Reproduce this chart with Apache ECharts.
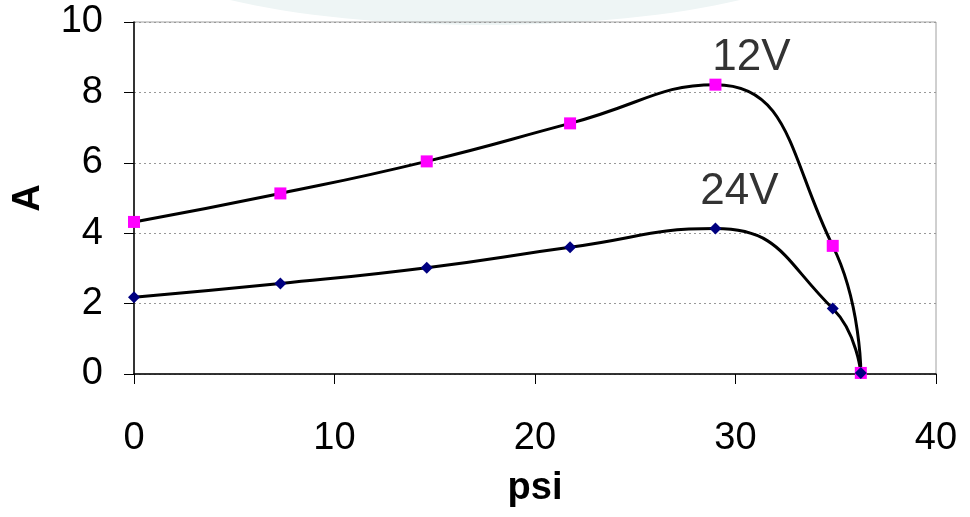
<!DOCTYPE html>
<html><head><meta charset="utf-8">
<script src="https://cdn.jsdelivr.net/npm/echarts@6/dist/echarts.min.js"></script>
<style>html,body{margin:0;padding:0;background:#fff}#c{width:970px;height:517px}</style>
</head><body><div id="c"></div>
<script>
const psi = [0, 7.3, 14.6, 21.75, 29.0, 34.85, 36.25];
const amps12V = [4.32, 5.13, 6.04, 7.12, 8.22, 3.64, 0.03];
const amps24V = [2.18, 2.57, 3.02, 3.6, 4.13, 1.86, 0.03];
const xTicks = [0, 10, 20, 30, 40];
const yTicks = [0, 2, 4, 6, 8, 10];
const seriesNames = ['12V', '24V'];

const chart = echarts.init(document.getElementById('c'));
const font = '"Liberation Sans", Arial, sans-serif';
function pairs(ys){ return psi.map((x,i)=>[x, ys[i]]); }
chart.setOption({
  animation:false,
  backgroundColor:'#fff',
  graphic:[{type:'ellipse', shape:{cx:485, cy:-60, rx:360, ry:85}, style:{fill:'#eef5f5'}, z:-10}],
  grid:{left:134, right:34, top:22, bottom:143, show:true, borderColor:'#a0a0a0', borderWidth:1,
        containLabel:false, outerBoundsMode:'none'},
  xAxis:{type:'value', min:0, max:40, interval:10, name:'psi', nameLocation:'middle', nameGap:96,
    nameTextStyle:{fontFamily:font, fontSize:38, fontWeight:'bold', color:'#000'},
    axisLine:{show:true, onZero:false, lineStyle:{color:'#000', width:1.5}},
    axisTick:{show:true, inside:false, length:10, lineStyle:{color:'#000'}},
    axisLabel:{fontFamily:font, fontSize:38, color:'#000', margin:46, formatter:v=>xTicks.includes(v)?String(v):''},
    splitLine:{show:false}},
  yAxis:{type:'value', min:0, max:10, interval:2, name:'A', nameLocation:'middle', nameGap:86, nameRotate:90,
    nameTextStyle:{fontFamily:font, fontSize:38, fontWeight:'bold', color:'#000'},
    axisLine:{show:true, onZero:false, lineStyle:{color:'#000', width:1.5}},
    axisTick:{show:true, inside:false, length:10, lineStyle:{color:'#000'}},
    axisLabel:{fontFamily:font, fontSize:38, color:'#000', margin:31, formatter:v=>yTicks.includes(v)?String(v):''},
    splitLine:{show:true, lineStyle:{color:'#999', type:[2,3], width:1}}},
  series:[
    {name:seriesNames[0], type:'line', data:pairs(amps12V), smooth:0.5,
     symbol:'rect', symbolSize:12, itemStyle:{color:'#ff00ff'},
     lineStyle:{color:'#000', width:3}, z:3,
     markPoint:{symbol:'circle', symbolSize:1, itemStyle:{color:'rgba(0,0,0,0)'},
       data:[{coord:[psi[4], amps12V[4]], label:{show:true, position:'inside', formatter:seriesNames[0], offset:[36,-27], fontFamily:font, fontSize:44, color:'#333'}}]}},
    {name:seriesNames[1], type:'line', data:pairs(amps24V), smooth:0.5,
     symbol:'diamond', symbolSize:12, itemStyle:{color:'#000080'},
     lineStyle:{color:'#000', width:3}, z:3,
     markPoint:{symbol:'circle', symbolSize:1, itemStyle:{color:'rgba(0,0,0,0)'},
       data:[{coord:[psi[4], amps24V[4]], label:{show:true, position:'inside', formatter:seriesNames[1], offset:[24,-37], fontFamily:font, fontSize:44, color:'#333'}}]}}
  ]
});
</script></body></html>
